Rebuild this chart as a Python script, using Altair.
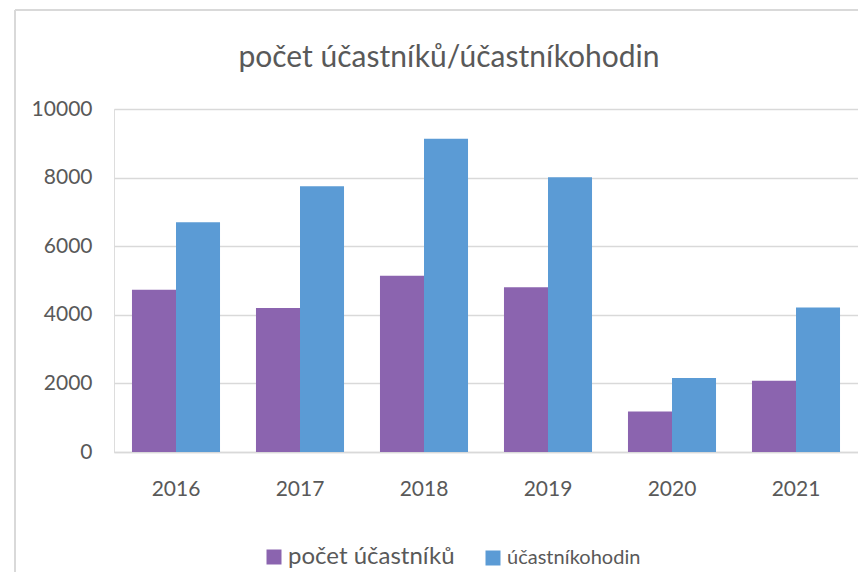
import altair as alt
import pandas as pd

years = ["2016", "2017", "2018", "2019", "2020", "2021"]
ucastniku = [4730, 4200, 5140, 4800, 1180, 2080]
hodin = [6700, 7750, 9130, 8010, 2155, 4210]
series = ["počet účastníků", "účastníkohodin"]
colors = ["#8B64AF", "#5B9BD5"]
y_ticks = [0, 2000, 4000, 6000, 8000, 10000]
title_text = "počet účastníků/účastníkohodin"

rows = []
for i, y in enumerate(years):
    rows.append({"rok": y, "serie": series[0], "hodnota": ucastniku[i]})
    rows.append({"rok": y, "serie": series[1], "hodnota": hodin[i]})
df = pd.DataFrame(rows)

FONT = "Lato"
TXT = "#595959"
GRID = "#d9d9d9"

bars = alt.Chart(df).mark_bar().encode(
    x=alt.X("rok:N", sort=years, title=None,
            scale=alt.Scale(paddingInner=0.29, paddingOuter=0.145),
            axis=alt.Axis(labelAngle=0, labelFontSize=21, labelFont=FONT, labelColor=TXT,
                          tickSize=0, labelPadding=26, domainColor=GRID, domainWidth=1.5)),
    xOffset=alt.XOffset("serie:N", sort=series),
    y=alt.Y("hodnota:Q", title=None,
            scale=alt.Scale(domain=[0, 10000], nice=False),
            axis=alt.Axis(values=y_ticks, format="d", labelFontSize=21, labelFont=FONT,
                          labelColor=TXT, tickSize=0, labelPadding=22, domain=False,
                          gridColor=GRID, gridWidth=1.5)),
    color=alt.Color("serie:N", sort=series,
                    scale=alt.Scale(domain=series, range=colors),
                    legend=alt.Legend(title=None, orient="none", legendX=150, legendY=438,
                                      direction="horizontal", symbolType="square",
                                      symbolSize=225, symbolStrokeWidth=0,
                                      labelFont=FONT, labelColor=TXT,
                                      labelFontSize={"expr": "datum.label == 'počet účastníků' ? 24 : 20"},
                                      labelOffset=4, columnPadding=28,
                                      labelLimit=400)),
)

title = alt.Chart(pd.DataFrame({"t": [title_text]})).mark_text(
    font=FONT, fontSize=30, color=TXT, align="center", baseline="alphabetic"
).encode(text="t:N", x=alt.value(335), y=alt.value(-42))

border_left = alt.Chart(df).mark_rule(color=GRID, strokeWidth=2).encode(
    x=alt.value(-99), y=alt.value(-99), y2=alt.value(480))
border_top = alt.Chart(df).mark_rule(color=GRID, strokeWidth=2).encode(
    x=alt.value(-99), x2=alt.value(760), y=alt.value(-99))

chart = alt.layer(border_left, border_top, title, bars).properties(
    width=744, height=343,
    autosize=alt.AutoSizeParams(type="none"),
    padding={"left": 106, "top": 101, "right": 0, "bottom": 120},
).configure_view(stroke=None).configure(background="white")

chart.save("out.html", embed_options={"renderer": "svg", "actions": False})
